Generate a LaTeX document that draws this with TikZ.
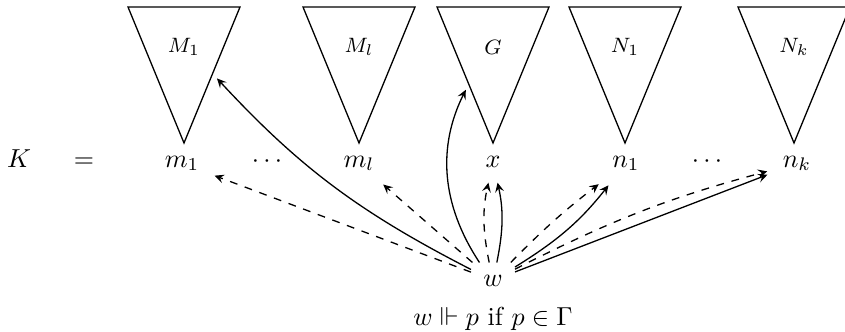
\documentclass[tikz,border=0pt]{standalone}
\usepackage{amssymb}
\usetikzlibrary{calc,arrows.meta}
\begin{document}
\begin{tikzpicture}[x=0.3846pt,y=0.3846pt,line width=0.5pt,
  >={Stealth[length=3.6pt,width=3.4pt,inset=1.4pt]},
  rowlbl/.style={anchor=base},
  tlbl/.style={font=\footnotesize},
  arr/.style={->,shorten >=2.5pt},
  darr/.style={->,dashed,shorten >=2.5pt}]
\useasboundingbox (0,0) rectangle (845,-331);
% triangles
\foreach \n/\a/\t in {M1/184/{$M_1$}, Ml/359/{$M_l$}, G/493/{$G$}, N1/625/{$N_1$}, Nk/794/{$N_k$}} {
  \coordinate (\n-a) at (\a,-143);
  \coordinate (\n-l) at (\a-56,-7);
  \coordinate (\n-r) at (\a+56,-7);
  \draw (\n-l) -- (\n-r) -- (\n-a) -- cycle;
  \node[tlbl] (\n-t) at (\a,-47) {\t};
}
\coordinate (M1s) at ($(M1-r)!0.49!(M1-a)$);
\coordinate (Gs) at ($(G-l)!0.566!(G-a)$);
% row
\node[rowlbl] (K) at (19,-167) {$K$};
\node[rowlbl] (eq) at (84,-167) {$=$};
\node[rowlbl] (m1) at (182,-167) {$m_1$};
\node[rowlbl] (d1) at (267,-167) {$\cdots$};
\node[rowlbl] (ml) at (359,-167) {$m_l$};
\node[rowlbl] (x) at (493,-167) {$x$};
\node[rowlbl] (n1) at (626,-167) {$n_1$};
\node[rowlbl] (d2) at (707,-167) {$\cdots$};
\node[rowlbl] (nk) at (797,-167) {$n_k$};
\node[rowlbl, inner sep=4.5pt] (w) at (493,-286) {$w$};
\node[rowlbl] (cap) at (493,-325) {$w \Vdash p$ if $p \in \Gamma$};
% arrows
\draw[darr] (w) -- (m1);
\draw[arr] (w) to[bend left=10] (M1s);
\draw[darr] (w) -- (ml);
\draw[arr] (w) to[bend left=30] (Gs);
\draw[darr] (w) to[bend left=12] (x);
\draw[arr] (w) to[bend right=12] (x);
\draw[darr] (w) to[bend left=4] (n1);
\draw[arr] (w) to[bend right=10] (n1);
\draw[darr] (w) to[bend left=6] (nk);
\draw[arr] (w) -- (nk);
\end{tikzpicture}
\end{document}
